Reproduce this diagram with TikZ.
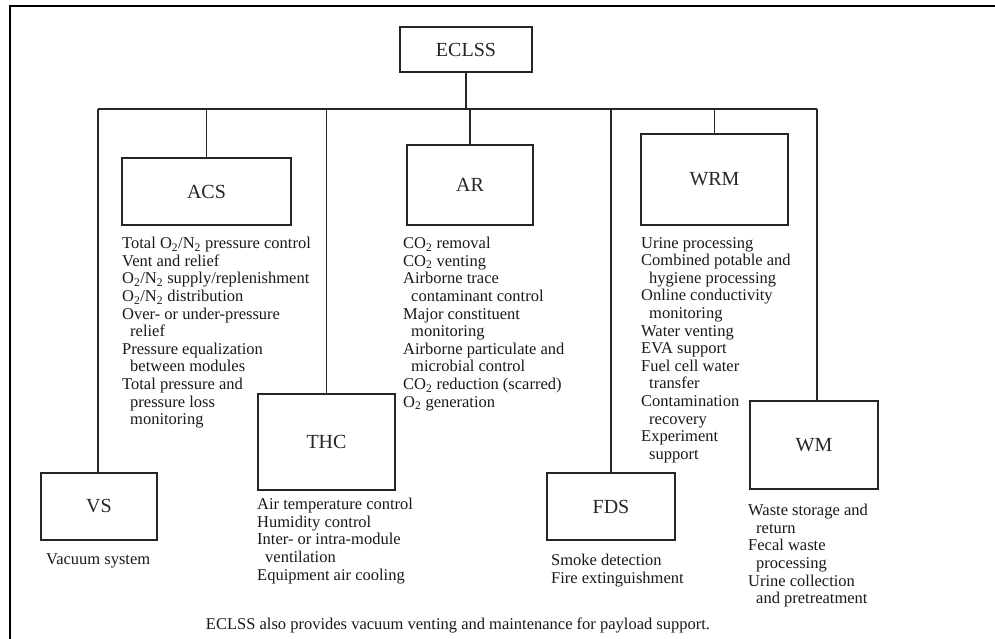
\documentclass[tikz,border=0pt]{standalone}
\usepackage{fontspec}
\setmainfont{Liberation Serif}
\newcommand{\lsub}[1]{\textsubscript{#1}}
\newcommand{\myind}{\hspace*{8pt}}
\begin{document}
\begin{tikzpicture}[x=1pt,y=-1pt,
  box/.style={draw=black!85, line width=1.3pt, inner sep=0pt, text=black!85, font=\fontsize{20}{22}\selectfont},
  list/.style={anchor=north west, align=left, inner sep=0pt, text=black!90, font=\fontsize{16.5}{17.6}\selectfont},
  conn/.style={draw=black!85, line width=1.2pt}]
\useasboundingbox (0,0) rectangle (995,639);
\fill[white] (0,0) rectangle (995,639);
\draw[line width=2.6pt] (10,639) -- (10,6) -- (995,6);

% boxes
\node[box, minimum width=132pt, minimum height=45pt] (ECLSS) at (466,49.5) {ECLSS};
\node[box, minimum width=169pt, minimum height=67pt] (ACS) at (206.5,191.5) {ACS};
\node[box, minimum width=126pt, minimum height=80pt] (AR) at (470,185) {AR};
\node[box, minimum width=147pt, minimum height=91pt] (WRM) at (714.5,179.5) {WRM};
\node[box, minimum width=116pt, minimum height=67pt] (VS) at (99,506.5) {VS};
\node[box, minimum width=137pt, minimum height=96pt] (THC) at (326.5,442) {THC};
\node[box, minimum width=128pt, minimum height=67pt] (FDS) at (611,506.5) {FDS};
\node[box, minimum width=128pt, minimum height=88pt] (WM) at (814,445) {WM};

% bus
\coordinate (busL) at (98,109);
\coordinate (busR) at (817,109);
\draw[conn] (busL) -- (busR);
\draw[conn] (ECLSS.south) -- (ECLSS.south |- busL);
\draw[conn] (busL) -- (busL |- VS.north);
\draw[conn] (ACS.north) -- (ACS.north |- busL);
\draw[conn] (THC.north) -- (THC.north |- busL);
\draw[conn] (AR.north) -- (AR.north |- busL);
\draw[conn] (FDS.north) -- (FDS.north |- busL);
\draw[conn] (WRM.north) -- (WRM.north |- busL);
\draw[conn] (busR) -- (busR |- WM.north);

% lists
\node[list] (acsl) at (122,237) {Total O\lsub{2}/N\lsub{2} pressure control\\
Vent and relief\\
O\lsub{2}/N\lsub{2} supply/replenishment\\
O\lsub{2}/N\lsub{2} distribution\\
Over- or under-pressure\\
\myind relief\\
Pressure equalization\\
\myind between modules\\
Total pressure and\\
\myind pressure loss\\
\myind monitoring};

\node[list] (arl) at (403,237) {CO\lsub{2} removal\\
CO\lsub{2} venting\\
Airborne trace\\
\myind contaminant control\\
Major constituent\\
\myind monitoring\\
Airborne particulate and\\
\myind microbial control\\
CO\lsub{2} reduction (scarred)\\
O\lsub{2} generation};

\node[list] (wrml) at (641,237) {Urine processing\\
Combined potable and\\
\myind hygiene processing\\
Online conductivity\\
\myind monitoring\\
Water venting\\
EVA support\\
Fuel cell water\\
\myind transfer\\
Contamination\\
\myind recovery\\
Experiment\\
\myind support};

\node[list] (thcl) at (257,498) {Air temperature control\\
Humidity control\\
Inter- or intra-module\\
\myind ventilation\\
Equipment air cooling};

\node[list] (vsl) at (46,553) {Vacuum system};

\node[list] (fdsl) at (551,554) {Smoke detection\\
Fire extinguishment};

\node[list] (wml) at (748,504) {Waste storage and\\
\myind return\\
Fecal waste\\
\myind processing\\
Urine collection\\
\myind and pretreatment};

\node[list, anchor=center] (note) at (458,625) {ECLSS also provides vacuum venting and maintenance for payload support.};
\end{tikzpicture}
\end{document}
